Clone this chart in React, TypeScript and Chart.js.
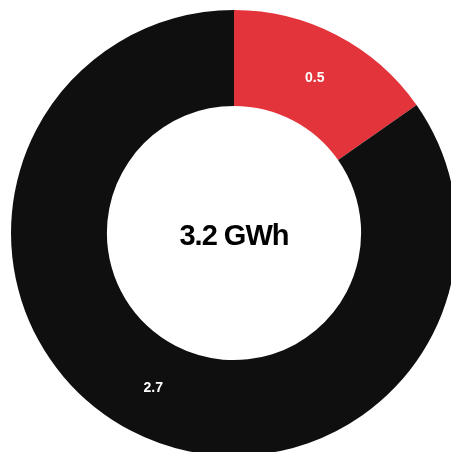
import React, { useEffect, useRef } from "react";
import { Chart, registerables } from "chart.js";

Chart.register(...registerables);

const categories = ["Segment A", "Segment B"];
const values = [0.49, 2.72];
const colors = ["#E4343B", "#0F0F0F"];
const unit = "GWh";

const labelPlugin = {
  id: "sliceLabels",
  afterDatasetsDraw(chart: any) {
    const ctx = chart.ctx;
    const meta = chart.getDatasetMeta(0);
    ctx.save();
    ctx.fillStyle = "#ffffff";
    ctx.font = "bold 14px 'Liberation Sans', Arial, sans-serif";
    ctx.textAlign = "center";
    ctx.textBaseline = "middle";
    meta.data.forEach((arc: any, i: number) => {
      const p = arc.tooltipPosition();
      ctx.fillText(values[i].toFixed(1), p.x, p.y);
    });
    const total = values.reduce((a, b) => a + b, 0);
    const cx = (chart.chartArea.left + chart.chartArea.right) / 2;
    const cy = (chart.chartArea.top + chart.chartArea.bottom) / 2;
    ctx.fillStyle = "#000000";
    ctx.font = "bold 29px 'Liberation Sans', Arial, sans-serif";
    try {
      (ctx as any).letterSpacing = "-1px";
    } catch (e) {}
    ctx.fillText(total.toFixed(1) + " " + unit, cx, cy + 4);
    ctx.restore();
  },
};

export default function App() {
  const ref = useRef<HTMLCanvasElement>(null);
  useEffect(() => {
    if (!ref.current) return;
    const chart = new Chart(ref.current, {
      type: "doughnut",
      data: {
        labels: categories,
        datasets: [
          {
            data: values,
            backgroundColor: colors,
            borderWidth: 0,
          },
        ],
      },
      options: {
        responsive: false,
        animation: false,
        cutout: "57%",
        layout: { padding: 10 },
        plugins: {
          legend: { display: false },
          tooltip: { enabled: false },
        },
      },
      plugins: [labelPlugin],
    });
    return () => chart.destroy();
  }, []);
  return (
    <div
      style={{
        position: "fixed",
        left: 0,
        top: 0,
        width: 451,
        height: 452,
        overflow: "hidden",
        background: "#fff",
      }}
    >
      <canvas
        ref={ref}
        width={468}
        height={466}
        style={{ position: "absolute", left: 0, top: 0, width: 468, height: 466 }}
      />
    </div>
  );
}
